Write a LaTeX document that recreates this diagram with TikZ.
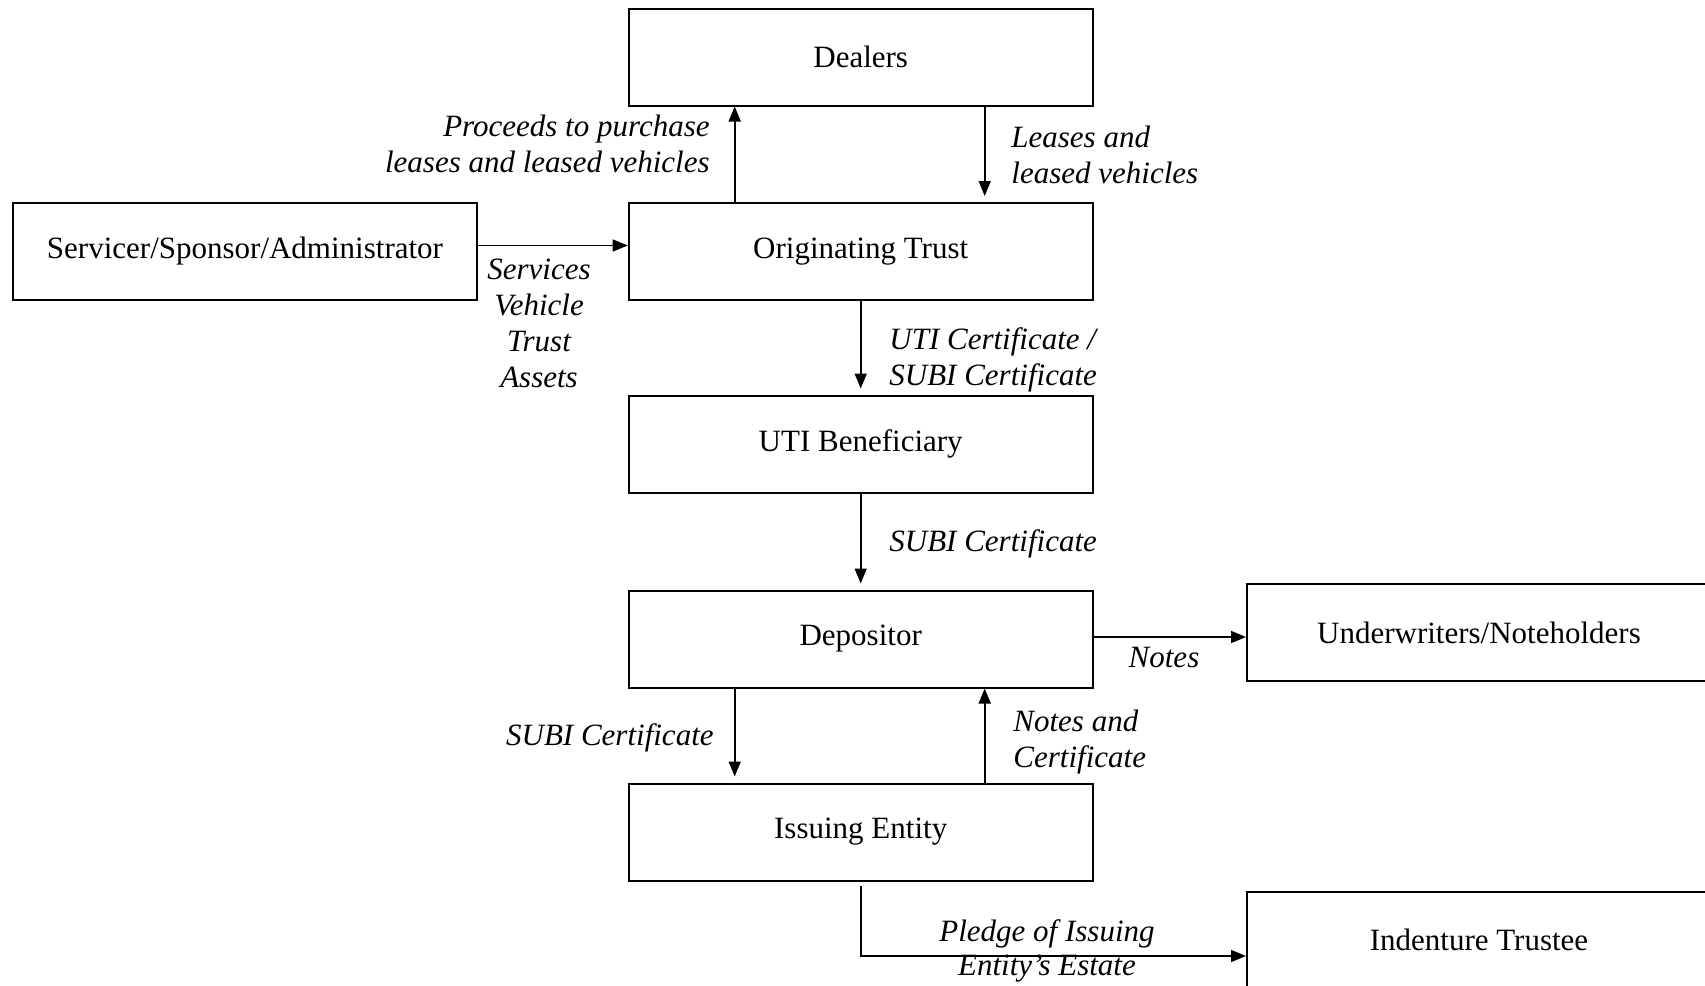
\documentclass[tikz,border=0pt]{standalone}
\usepackage{fontspec}
\setmainfont{Liberation Serif}
\usetikzlibrary{arrows.meta,positioning}

\begin{document}
\begin{tikzpicture} [
  x = 0.5pt, y = -0.5pt,
  font = \fontsize{15.5}{18}\selectfont,
  box/.style = { draw, line width = 1pt, minimum width = 232pt, minimum height = 48.5pt, inner sep = 0 },
  lbl/.style = { inner sep = 0, font = \fontsize{15.5}{18}\selectfont\itshape },
  arr/.style = { line width = 0.8pt, -{Triangle[length=7.5pt,width=6pt]} }
  ]
  \clip (0,0) rectangle (1705,986);

  \node[box] (D) at (860.7,57) {Dealers};
  \node[box] (O) at (860.7,251.5) {Originating Trust};
  \node[box] (S) at (245,251.5) {Servicer/Sponsor/Administrator};
  \node[box] (U) at (860.7,444) {UTI Beneficiary};
  \node[box] (P) at (860.7,639) {Depositor};
  \node[box] (W) at (1479,632.5) {Underwriters/Noteholders};
  \node[box] (I) at (860.7,832) {Issuing Entity};
  \node[box] (T) at (1479,940) {Indenture Trustee};

  \draw[arr] ([xshift=-63pt]O.north) -- ([xshift=-63pt]D.south);
  \draw[arr, shorten >=3pt] ([xshift=62pt]D.south) -- ([xshift=62pt]O.north);
  \draw[arr] ([yshift=3pt]S.east) -- ([yshift=3pt]O.west);
  \draw[arr, shorten >=3pt] (O.south) -- (U.north);
  \draw[arr, shorten >=3pt] (U.south) -- (P.north);
  \draw[arr] ([yshift=1pt]P.east) -- ([yshift=1pt]P.east -| W.west);
  \draw[arr, shorten >=3pt] ([xshift=-63pt]P.south) -- ([xshift=-63pt]I.north);
  \draw[arr] ([xshift=62pt]I.north) -- ([xshift=62pt]P.south);
  \draw[arr] ([yshift=-2pt]I.south) |- ([yshift=-8pt]T.west);

  \node[lbl, anchor=east, align=right] (pl) at (710,144) {Proceeds to purchase\\leases and leased vehicles};
  \node[lbl, anchor=west, align=left] (ll) at (1011,155) {Leases and\\leased vehicles};
  \node[lbl, align=center] (sl) at (539,323) {Services\\Vehicle\\Trust\\Assets};
  \node[lbl, anchor=west, align=left] (ul) at (889,360) {UTI Certificate /\\SUBI Certificate};
  \node[lbl, anchor=west] (s1) at (889,544) {SUBI Certificate};
  \node[lbl] (nl) at (1164,657) {Notes};
  \node[lbl, anchor=east] (s2) at (714,738) {SUBI Certificate};
  \node[lbl, anchor=west, align=left] (nc) at (1013,742) {Notes and\\Certificate};
  \node[lbl, align=center] (pg) at (1047,951) {Pledge of Issuing\\[-1pt]Entity's Estate};
\end{tikzpicture}
\end{document}
